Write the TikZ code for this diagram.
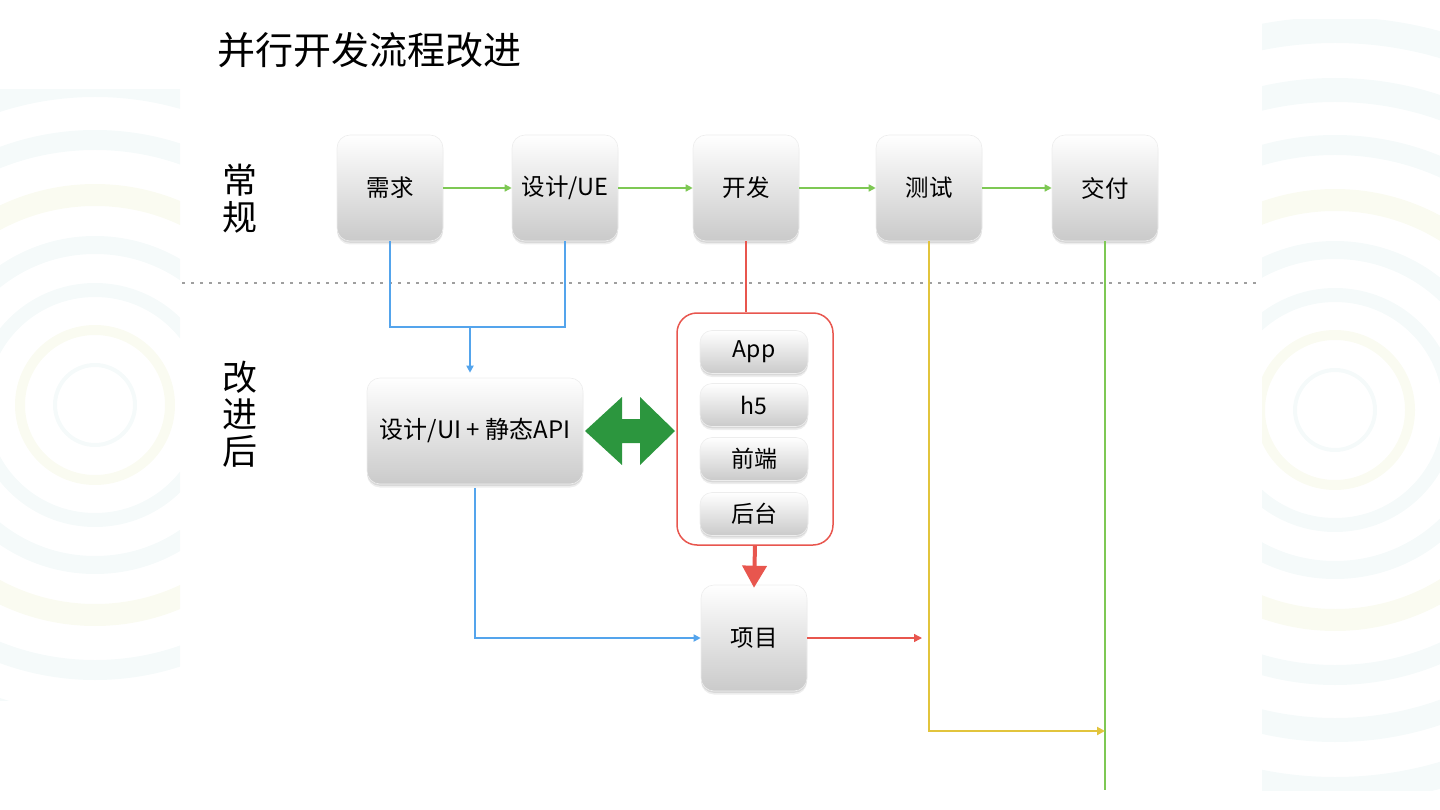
\documentclass[tikz,border=0pt]{standalone}
\usepackage{fontspec}
\setmainfont{Noto Sans CJK SC}
\usetikzlibrary{arrows.meta,calc}
\definecolor{arrgreen}{RGB}{126,200,84}
\definecolor{darkgreen}{RGB}{44,150,62}
\definecolor{lineblue}{RGB}{84,164,236}
\definecolor{linered}{RGB}{232,86,78}
\definecolor{lineyellow}{RGB}{226,196,60}
\definecolor{boxbot}{RGB}{202,202,202}
\definecolor{bgA}{RGB}{245,250,250}
\definecolor{bgB}{RGB}{250,251,241}
\tikzset{
  softshadow/.style={
    preaction={fill=black, opacity=0.07, transform canvas={yshift=-3.5pt}},
    preaction={fill=black, opacity=0.09, transform canvas={yshift=-1.8pt}}},
  procbox/.style={softshadow, rounded corners=13pt, top color=white, bottom color=boxbot,
    draw=black!7, line width=0.6pt,
    minimum width=106pt, minimum height=106pt, inner sep=0pt,
    font=\fontsize{23.5}{26}\selectfont},
  pill/.style={softshadow, rounded corners=12pt, top color=white, bottom color=boxbot,
    draw=black!7, line width=0.6pt,
    minimum width=108pt, minimum height=43pt, inner sep=0pt,
    font=\fontsize{23}{26}\selectfont},
  garrow/.style={draw=arrgreen, line width=1.6pt, -{Triangle[length=7pt,width=7pt]}},
  bline/.style={draw=lineblue, line width=2pt},
  rline/.style={draw=linered, line width=1.4pt},
}
\begin{document}
\begin{tikzpicture}[x=1pt,y=-1pt]
\useasboundingbox (0,0) rectangle (1440,810);
% faint background decorations
\begin{scope}
\clip (0,90) rectangle (180,700);
\foreach \r/\w/\c in {40/4/bgA,75/10/bgB,115/14/bgA,160/18/bgA,210/22/bgB,265/20/bgA,320/24/bgA}
  \draw[\c, line width=\w pt] (95,405) circle (\r);
\end{scope}
\begin{scope}
\clip (1262,20) rectangle (1440,790);
\foreach \r/\w/\c in {40/4/bgA,75/10/bgB,115/14/bgA,160/18/bgA,210/22/bgB,265/20/bgA,320/24/bgA,380/26/bgA}
  \draw[\c, line width=\w pt] (1335,410) circle (\r);
\end{scope}

% title and row labels
\node[anchor=west, inner sep=0pt, font=\fontsize{38}{40}\selectfont] (title) at (217,50) {并行开发流程改进};
\node[align=center, inner sep=0pt, font=\fontsize{35}{37}\selectfont] (lab1) at (240,199) {常\\规};
\node[align=center, inner sep=0pt, font=\fontsize{35}{37}\selectfont] (lab2) at (240,414) {改\\进\\后};

% separator
\draw[gray!75, line width=2.6pt, dash pattern=on 2.6pt off 6.4pt] (182,283) -- (1258,283);

% top process boxes
\node[procbox] (xq) at (390,188) {需求};
\node[procbox] (ue) at (565,188) {设计/UE};
\node[procbox] (kf) at (746,188) {开发};
\node[procbox] (cs) at (929,188) {测试};
\node[procbox] (jf) at (1105,188) {交付};
\draw[garrow] (xq.east) -- (ue.west);
\draw[garrow] (ue.east) -- (kf.west);
\draw[garrow] (kf.east) -- (cs.west);
\draw[garrow] (cs.east) -- (jf.west);

% improved process
\node[procbox, minimum width=216pt, font=\fontsize{24}{26}\selectfont] (ui) at (475,431) {设计/UI + 静态API};
\node[draw=linered, line width=1.5pt, rounded corners=20pt, minimum width=156pt, minimum height=232pt] (rb) at (755,429) {};
\node[pill] (app) at (754,352) {App};
\node[pill] (h5) at (754,405) {h5};
\node[pill] (fe) at (754,459) {前端};
\node[pill] (be) at (754,514) {后台};
\node[procbox] (xm) at (754,638) {项目};

% blue connectors
\coordinate (bm) at (470,327);
\draw[bline] (xq.south) |- (bm) -| (ue.south);
\draw[bline, -{Triangle[length=7pt,width=7pt]}, shorten >=5pt] (bm) -- (bm |- ui.north);
\draw[bline, -{Triangle[length=7pt,width=7pt]}] ([yshift=-4pt]ui.south) |- (xm.west);

% red connectors
\draw[rline] (kf.south) -- (kf.south |- rb.north);
\draw[draw=linered, line width=4pt, -{Triangle[length=22pt,width=24pt]}] (rb.south) -- ([yshift=-3pt]xm.north);
\coordinate (rt) at (922,638);
\draw[rline, -{Triangle[length=8pt,width=8pt]}] (xm.east) -- (rt);

% green double arrow
\fill[darkgreen] (585,431) -- (622,397) -- (622,419) -- (640,419) -- (640,397) -- (675,431)
  -- (640,465) -- (640,443) -- (622,443) -- (622,465) -- cycle;

% yellow and green delivery lines
\coordinate (ge) at (1105,790);
\coordinate (yc) at (1105,731);
\draw[draw=arrgreen, line width=2.2pt] (jf.south) -- (ge);
\draw[draw=lineyellow, line width=2pt, -{Triangle[length=8pt,width=8pt]}] (cs.south) |- (yc);
\end{tikzpicture}
\end{document}
